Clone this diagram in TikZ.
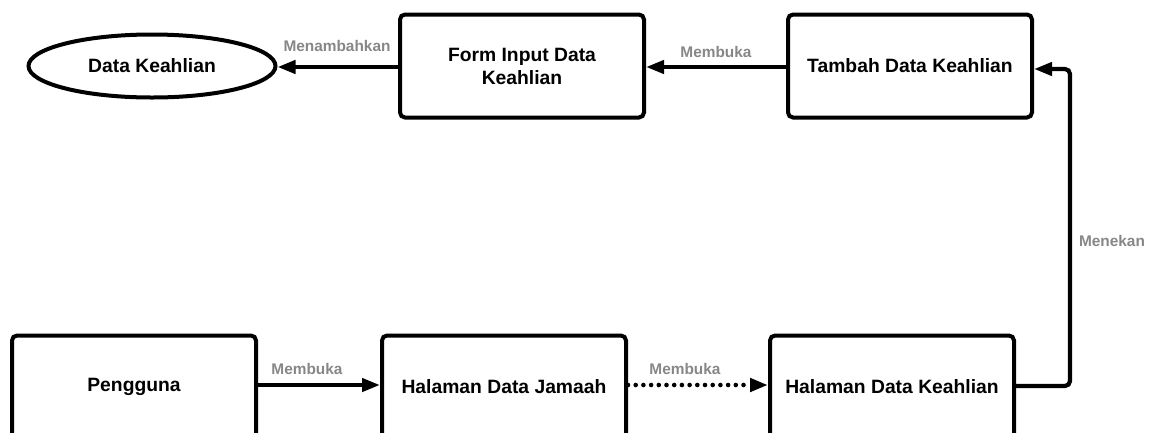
\documentclass[tikz,border=0pt]{standalone}
\usepackage{fontspec}
\setmainfont{Liberation Sans}
\usetikzlibrary{arrows.meta,shapes.geometric}
\tikzset{
  box/.style={draw=black, line width=4pt, rounded corners=5pt, minimum width=244pt, minimum height=103pt, inner sep=0pt, align=center, font=\bfseries\fontsize{19.3}{23}\selectfont},
  oval/.style={draw=black, line width=4pt, ellipse, minimum width=247pt, minimum height=63pt, inner sep=0pt, font=\bfseries\fontsize{19.3}{23}\selectfont},
  conn/.style={draw=black, line width=4.2pt, -{Triangle[length=18pt,width=13pt]}},
  dotconn/.style={conn, line width=4.6pt, line cap=round, dash pattern=on 0pt off 7.7pt},
  lbl/.style={text=black!47, font=\bfseries\fontsize{15.4}{18}\selectfont, inner sep=0pt}
}
\begin{document}
\begin{tikzpicture}[x=1pt,y=-1pt]
\useasboundingbox (0,0) rectangle (1149,432);
\clip (0,0) rectangle (1149,432);
\node[oval] (dk) at (152,66) {Data Keahlian};
\node[box] (form) at (522,66) {Form Input Data\\Keahlian};
\node[box] (tambah) at (910,66) {Tambah Data Keahlian};
\node[box] (peng) at (134,387) {Pengguna};
\node[box] (jam) at (504,387) {Halaman Data Jamaah};
\node[box] (hk) at (892,387) {Halaman Data Keahlian};
\coordinate (c1) at (1070,386);
\coordinate (c2) at (1070,69);
\coordinate (c3) at (tambah.east |- c2);
\draw[conn] (peng.east |- 0,385) -- (jam.west |- 0,385);
\draw[dotconn] (jam.east |- 0,385) -- (hk.west |- 0,385);
\draw[conn, rounded corners=5pt] (hk.east |- c1) -- (c1) -- (c2) -- (c3);
\draw[conn] (tambah.west |- 0,67) -- (form.east |- 0,67);
\draw[conn] (form.west |- 0,67) -- (dk.east |- 0,67);
\node[lbl] (l1) at (307,369) {Membuka};
\node[lbl] (l2) at (685,369) {Membuka};
\node[lbl] (l3) at (1112,241) {Menekan};
\node[lbl] (l4) at (716,52) {Membuka};
\node[lbl] (l5) at (337,46) {Menambahkan};
\end{tikzpicture}
\end{document}
